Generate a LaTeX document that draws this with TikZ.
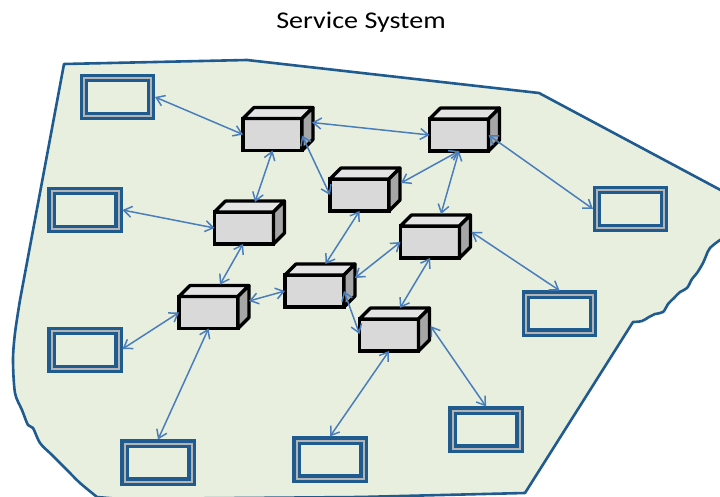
\documentclass[tikz,border=0pt]{standalone}
\usepackage{fontspec}
\setmainfont{Carlito}
\usetikzlibrary{calc,positioning,arrows.meta,shapes}
\definecolor{sysblue}{HTML}{1F5B8E}
\definecolor{sysfill}{HTML}{E8EFDF}
\definecolor{linkblue}{HTML}{4A7EBB}
\definecolor{frontgray}{HTML}{D9D9D9}
\definecolor{topgray}{HTML}{E4E4E4}
\definecolor{sidegray}{HTML}{A6A6A6}
\definecolor{bandgray}{HTML}{B4B4B4}

\tikzset{
	client/.style={rectangle, draw=sysblue, line width=3.2pt, double=bandgray,
		double distance=2pt, fill=sysfill, minimum width=67pt,
		minimum height=38pt, inner sep=0pt, outer sep=4pt},
	server/.style={rectangle, draw=black, line width=3.2pt, fill=frontgray,
		minimum width=59pt, minimum height=32pt, inner sep=0pt, outer sep=0pt},
	face/.style={draw=black, line width=3.2pt, line join=round},
	link/.style={draw=linkblue, line width=1.5pt,
		{Straight Barb[length=8pt,width=11pt]}-{Straight Barb[length=8pt,width=11pt]}}
}

% front face as a node, top and side faces drawn from its corners
\newcommand{\srvbox}[2]{%
	\node[server] (#1) at (#2) {};
	\draw[face, fill=topgray] (#1.north west) -- ++(11,-11)
		-- ($(#1.north east)+(11,-11)$) -- (#1.north east) -- cycle;
	\draw[face, fill=sidegray] (#1.north east) -- ++(11,-11)
		-- ($(#1.south east)+(11,-11)$) -- (#1.south east) -- cycle;
}

\begin{document}
\begin{tikzpicture}[x=1pt, y=-1pt]
	\useasboundingbox (0,0) rectangle (720,497);

	\node (title) at (361,22) {\fontsize{24}{28}\selectfont\scalebox{1.17}[1]{Service System}};

	% system boundary
	\draw[sysblue, line width=2.6pt, fill=sysfill, line join=round]
		(64,64) -- (247,60) -- (539,93) -- (728,194) -- (728,236)
		-- plot[smooth, tension=0.6] coordinates {(720,240) (710,248) (706,256)
			(703,263) (697,273) (692,279) (687,288) (680,292) (674,298) (668,304)
			(663,312) (655,314) (649,317) (642,321) (633,322)}
		-- (525,493) -- (360,497) -- (120,499)
		-- plot[smooth] coordinates {(97,497) (80,483) (67,470) (52,455) (40,443)
			(33,428) (28,425) (22,410) (15,393) (13,360) (15,333) (20,300)}
		-- cycle;

	% clients
	\node[client] (r1) at (117.5,97) {};
	\node[client] (r2) at (85,210) {};
	\node[client] (r3) at (85,350) {};
	\node[client] (r4) at (158,462.5) {};
	\node[client] (r5) at (330,459.5) {};
	\node[client] (r6) at (559.5,313.5) {};
	\node[client] (r7) at (486,429.5) {};
	\node[client] (r8) at (630.5,209) {};

	% servers
	\srvbox{s1}{272.5,134.5}
	\srvbox{s2}{244,228}
	\srvbox{s3}{359.5,195}
	\srvbox{s4}{430,242}
	\srvbox{s5}{314.5,291}
	\srvbox{s6}{208.5,312.5}
	\srvbox{s7}{389,335}
	\srvbox{s8}{459,135}

	% links
	\draw[link] (r1.east) -- (s1.west);
	\draw[link] ([shift={(10,-12)}]s1.east) -- (s8.west);
	\draw[link] (s1.south) -- ([shift={(11,-10)}]s2.north);
	\draw[link] ([shift={(0,1)}]s1.east) -- (s3.west);
	\draw[link] (r2.east) -- (s2.west);
	\draw[link] ([shift={(-1,0)}]s2.south) -- ([shift={(11.5,-12)}]s6.north);
	\draw[link] (s8.south) -- ([shift={(12,-12)}]s3.east);
	\draw[link] (s8.south) -- ([shift={(11,-12)}]s4.north);
	\draw[link] (s8.east) -- (r8.west);
	\draw[link] ([shift={(12,-10)}]s4.east) -- (r6.north);
	\draw[link] (s3.south) -- ([shift={(11,-11)}]s5.north);
	\draw[link] (s4.west) -- ([shift={(11,-13)}]s5.east);
	\draw[link] (s4.south) -- ([shift={(11,-11)}]s7.north);
	\draw[link] (s5.west) -- ([shift={(11,-11.5)}]s6.east);
	\draw[link] (s5.east) -- ([shift={(0,-1)}]s7.west);
	\draw[link] (s6.west) -- ([shift={(0,-1)}]r3.east);
	\draw[link] (s6.south) -- (r4.north);
	\draw[link] (s7.south) -- (r5.north);
	\draw[link] ([shift={(12,-9)}]s7.east) -- (r7.north);
\end{tikzpicture}
\end{document}
